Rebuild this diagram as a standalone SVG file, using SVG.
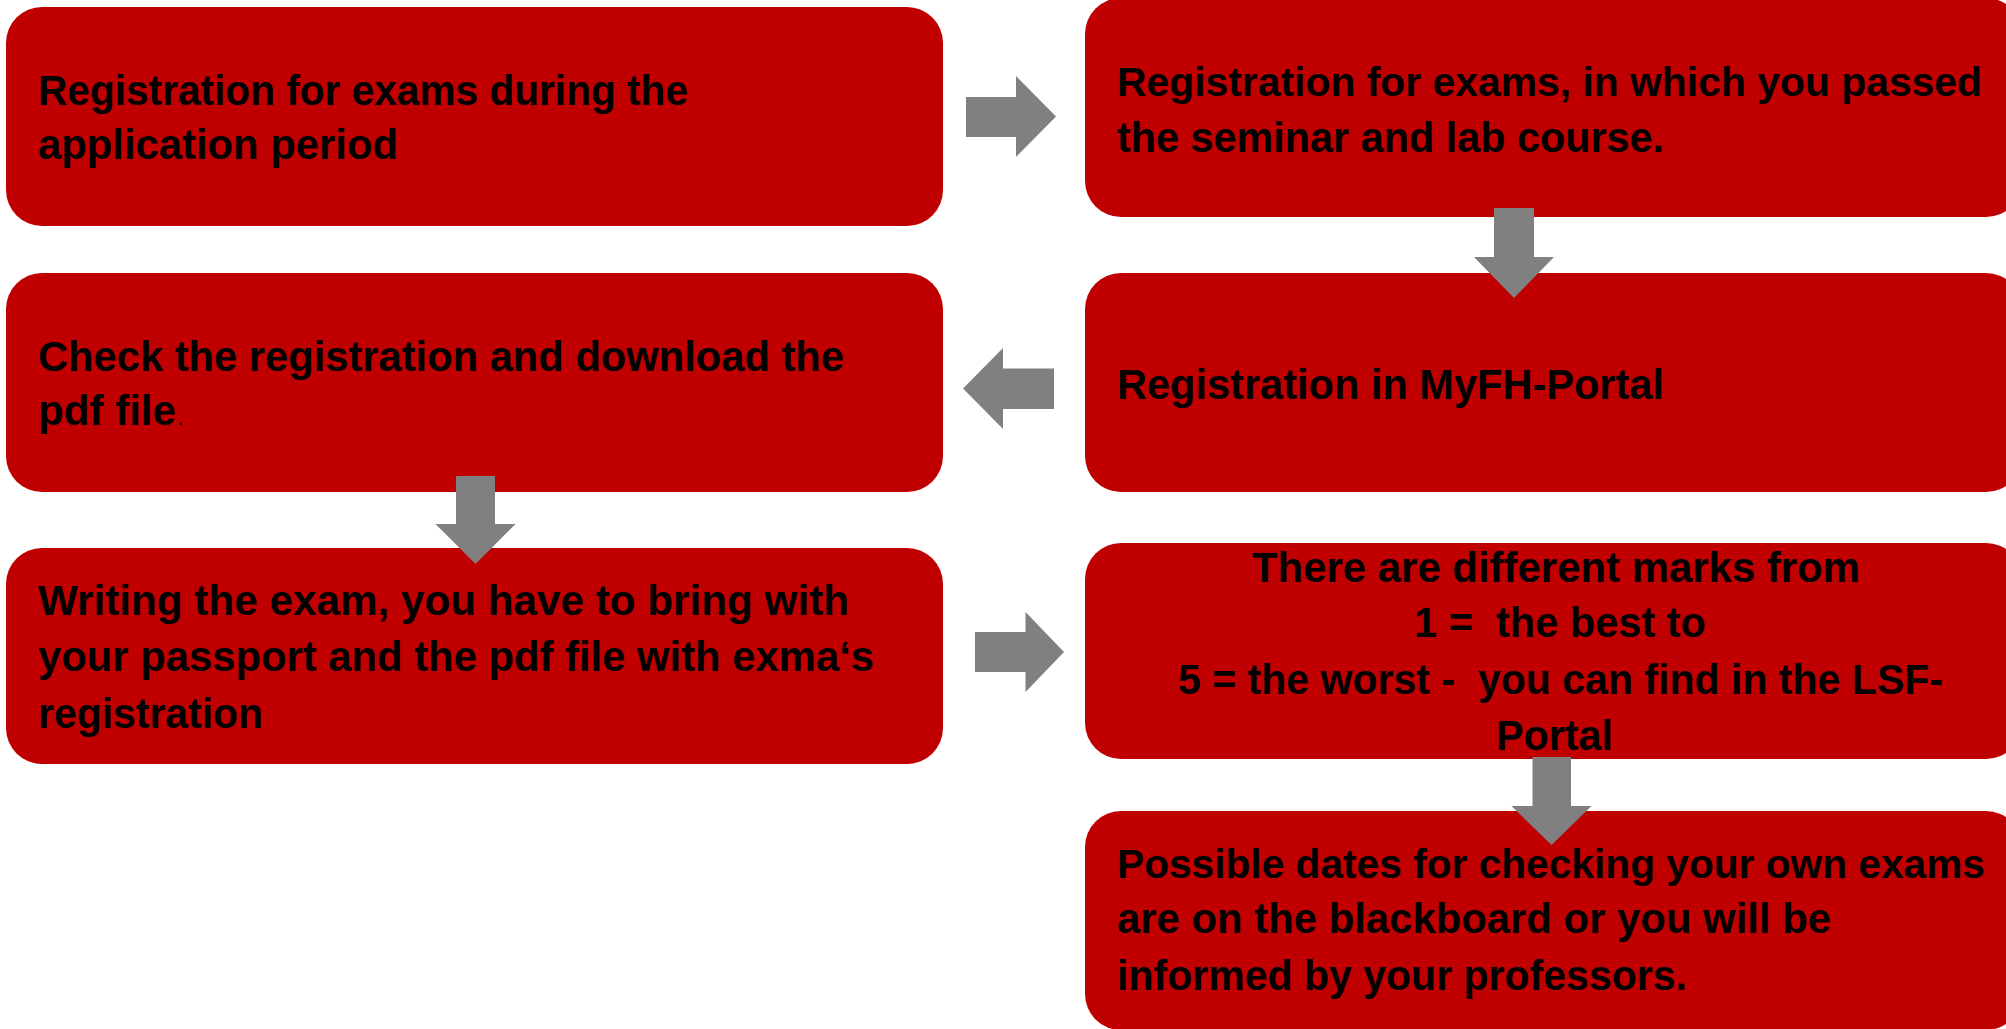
<svg xmlns="http://www.w3.org/2000/svg" width="2006" height="1029" viewBox="0 0 2006 1029">
<style>
.box{fill:#C00000;}
.arr{fill:#808080;}
.t{font-family:"Liberation Sans",Arial,sans-serif;font-weight:bold;font-size:43px;fill:#000;white-space:pre;}
.s{font-size:40px;}
.p{font-family:"Liberation Sans",Arial,sans-serif;font-weight:normal;font-size:22px;fill:#000;}
</style>
<rect width="2006" height="1029" fill="#fff"/>
<g id="n1">
<rect class="box" x="6" y="7" width="937" height="219" rx="36"/>
<text class="t" x="38" y="105" textLength="650" lengthAdjust="spacingAndGlyphs">Registration for exams during the</text>
<text class="t" x="38" y="159" textLength="360" lengthAdjust="spacingAndGlyphs">application period</text>
</g>
<g id="n2">
<rect class="box" x="1085" y="-2" width="937" height="219" rx="36"/>
<text class="t s" x="1117" y="96" textLength="865" lengthAdjust="spacingAndGlyphs">Registration for exams, in which you passed</text>
<text class="t" x="1117" y="152" textLength="547" lengthAdjust="spacingAndGlyphs">the seminar and lab course.</text>
</g>
<g id="n3">
<rect class="box" x="1085" y="273" width="937" height="219" rx="36"/>
<text class="t" x="1117" y="399" textLength="547" lengthAdjust="spacingAndGlyphs">Registration in MyFH-Portal</text>
</g>
<g id="n4">
<rect class="box" x="6" y="273" width="937" height="219" rx="36"/>
<text class="t" x="38" y="371" textLength="806" lengthAdjust="spacingAndGlyphs">Check the registration and download the</text>
<text class="t" x="38" y="425" textLength="138" lengthAdjust="spacingAndGlyphs">pdf file</text>
<text class="p" x="177.5" y="425">.</text>
</g>
<g id="n5">
<rect class="box" x="6" y="548" width="937" height="216" rx="36"/>
<text class="t" x="38" y="615" textLength="811" lengthAdjust="spacingAndGlyphs">Writing the exam, you have to bring with</text>
<text class="t" x="38" y="671" textLength="836" lengthAdjust="spacingAndGlyphs">your passport and the pdf file with exma‘s</text>
<text class="t" x="38" y="728" textLength="225" lengthAdjust="spacingAndGlyphs">registration</text>
</g>
<g id="n6">
<rect class="box" x="1085" y="543" width="937" height="216" rx="36"/>
<text class="t" x="1252" y="582" textLength="608" lengthAdjust="spacingAndGlyphs">There are different marks from</text>
<text class="t" x="1414" y="637" textLength="292" lengthAdjust="spacingAndGlyphs">1 =  the best to</text>
<text class="t" x="1178" y="694" textLength="765" lengthAdjust="spacingAndGlyphs">5 = the worst -  you can find in the LSF-</text>
<text class="t" x="1496" y="750" textLength="117" lengthAdjust="spacingAndGlyphs">Portal</text>
</g>
<g id="n7">
<rect class="box" x="1085" y="811" width="937" height="219" rx="36"/>
<text class="t s" x="1117" y="878" textLength="868" lengthAdjust="spacingAndGlyphs">Possible dates for checking your own exams</text>
<text class="t" x="1117" y="933" textLength="714" lengthAdjust="spacingAndGlyphs">are on the blackboard or you will be</text>
<text class="t" x="1117" y="990" textLength="570" lengthAdjust="spacingAndGlyphs">informed by your professors.</text>
</g>
<g id="connectors">
<polygon class="arr" points="966,97 1016,97 1016,76 1056,116.5 1016,157 1016,137 966,137"/>
<polygon class="arr" points="1494,208 1534,208 1534,257 1554,257 1514,298 1474,257 1494,257"/>
<polygon class="arr" points="1054,368.5 1003,368.5 1003,348 963,388.5 1003,429 1003,409 1054,409"/>
<polygon class="arr" points="456,476 495,476 495,524 515.5,524 475.5,564 435.5,524 456,524"/>
<polygon class="arr" points="975,632 1025.5,632 1025.5,612 1064,652 1025.5,692 1025.5,672 975,672"/>
<polygon class="arr" points="1532.5,757 1571,757 1571,806 1591.5,806 1551.5,845 1511.5,806 1532.5,806"/>
</g>
</svg>
